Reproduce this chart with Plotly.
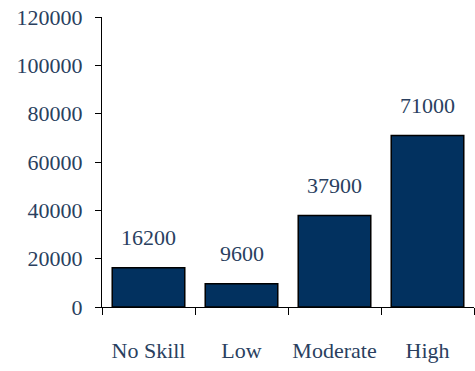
import plotly.graph_objects as go

categories = ["No Skill", "Low", "Moderate", "High"]
values = [16200, 9600, 37900, 71000]
y_ticks = [0, 20000, 40000, 60000, 80000, 100000, 120000]

FONT = "Liberation Serif"
FONT_SIZE = 22
BAR_COLOR = "#02315F"

fig = go.Figure(
    go.Bar(
        x=categories,
        y=values,
        marker=dict(color=BAR_COLOR, line=dict(color="black", width=1.5)),
        width=0.78,
        hoverinfo="skip",
    )
)

# value labels floating above each bar
for cat, val in zip(categories, values):
    fig.add_annotation(
        x=cat, y=val, text=str(val), showarrow=False,
        yanchor="middle", yshift=30,
        font=dict(family=FONT, size=FONT_SIZE),
    )

fig.update_layout(
    width=475, height=371,
    margin=dict(l=102, r=1, t=17, b=64),
    paper_bgcolor="white", plot_bgcolor="white",
    showlegend=False,
)

fig.update_xaxes(
    type="category",
    showline=True, linecolor="black", linewidth=1,
    ticks="outside", ticklen=7, tickcolor="black", tickwidth=1,
    tickson="boundaries",
    tickangle=0,
    ticklabelstandoff=24,
    tickfont=dict(family=FONT, size=FONT_SIZE),
    showgrid=False, zeroline=False,
    range=[-0.5, 3.5],
)
fig.update_yaxes(
    range=[0, 120000],
    tickvals=y_ticks, ticktext=[str(v) for v in y_ticks],
    showline=True, linecolor="black", linewidth=1,
    ticks="outside", ticklen=6, tickcolor="black", tickwidth=1,
    ticklabelstandoff=8,
    tickfont=dict(family=FONT, size=FONT_SIZE),
    showgrid=False, zeroline=False,
)

fig.write_html("out.html")
